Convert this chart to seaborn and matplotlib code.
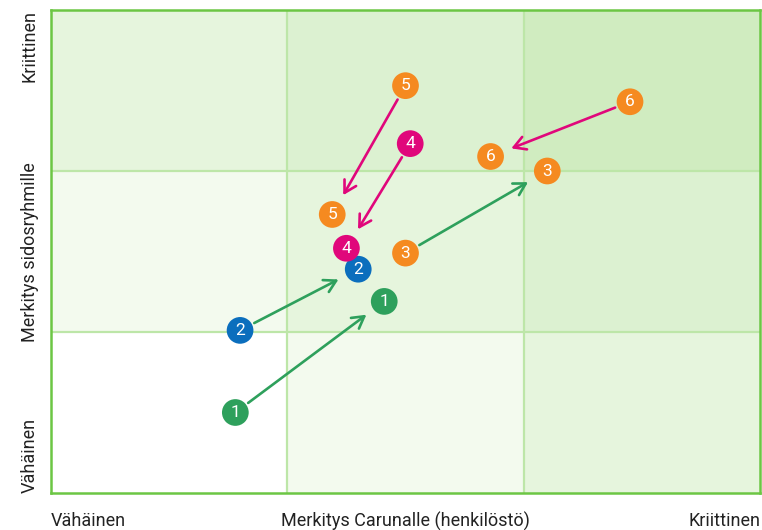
import matplotlib
matplotlib.use("Agg")
import matplotlib.pyplot as plt
from matplotlib.patches import Rectangle
import seaborn as sns
import pandas as pd

# ---- data ----
labels = ["1", "2", "3", "4", "5", "6"]
groups = ["green", "blue", "orange", "magenta", "orange", "orange"]
old_x = [0.78, 0.80, 1.50, 1.52, 1.50, 2.45]
old_y = [0.50, 1.01, 1.49, 2.17, 2.53, 2.43]
new_x = [1.41, 1.30, 2.10, 1.25, 1.19, 1.86]
new_y = [1.19, 1.39, 2.00, 1.52, 1.73, 2.09]
x_labels = ["Vähäinen", "Merkitys Carunalle (henkilöstö)", "Kriittinen"]
y_labels = ["Vähäinen", "Merkitys sidosryhmille", "Kriittinen"]

palette = {"green": "#2ea05c", "blue": "#0b6ebd", "orange": "#f58a20", "magenta": "#e0077b"}
arrow_up = "#2ea05c"
arrow_down = "#e0077b"
cell_colors = ["#ffffff", "#f3faee", "#e6f5dd", "#dcf1d1", "#d0ecc0"]

sns.set_theme(style="white")
plt.rcParams["font.family"] = ["Roboto", "DejaVu Sans"]

fig = plt.figure(figsize=(7.62, 5.30), dpi=100)
ax = fig.add_axes([51/762, 37/530, 709/762, 483/530])
ax.set_xlim(0, 3)
ax.set_ylim(0, 3)

# cells
for i in range(3):
    for j in range(3):
        ax.add_patch(Rectangle((i, j), 1, 1, facecolor=cell_colors[i + j], edgecolor="none", zorder=0))
for v in [1, 2]:
    ax.axvline(v, color="#bde6a8", lw=1.6, zorder=1)
    ax.axhline(v, color="#bde6a8", lw=1.6, zorder=1)

# arrows
for k in range(len(labels)):
    col = arrow_up if (new_x[k] + new_y[k]) > (old_x[k] + old_y[k]) else arrow_down
    ax.annotate("", xy=(new_x[k], new_y[k]), xytext=(old_x[k], old_y[k]),
                arrowprops=dict(arrowstyle="->,head_length=0.7,head_width=0.4", color=col,
                                lw=1.9, shrinkA=11.5, shrinkB=16),
                zorder=2)

# points
df = pd.DataFrame({
    "x": old_x + new_x,
    "y": old_y + new_y,
    "label": labels + labels,
    "group": groups + groups,
})
sns.scatterplot(data=df, x="x", y="y", hue="group", palette=palette, s=370,
                edgecolor="none", legend=False, ax=ax, zorder=3)
for _, r in df.iterrows():
    ax.text(r["x"], r["y"], r["label"], color="white", ha="center", va="center",
            fontsize=12.5, zorder=4)

ax.set_xticks([])
ax.set_yticks([])
ax.set_xlabel("")
ax.set_ylabel("")
for s in ax.spines.values():
    s.set_color("#6cc644")
    s.set_linewidth(1.8)
    s.set_visible(True)

# axis texts
tc = "#222222"
fs = 13
fig.text(51/762, 1 - 521/530, x_labels[0], ha="left", va="center", fontsize=fs, color=tc)
fig.text(405/762, 1 - 521/530, x_labels[1], ha="center", va="center", fontsize=fs, color=tc)
fig.text(760/762, 1 - 521/530, x_labels[2], ha="right", va="center", fontsize=fs, color=tc)
fig.text(30/762, 1 - 493/530, y_labels[0], ha="center", va="bottom", rotation=90, fontsize=fs, color=tc)
fig.text(30/762, 1 - 252/530, y_labels[1], ha="center", va="center", rotation=90, fontsize=fs, color=tc)
fig.text(30/762, 1 - 10/530, y_labels[2], ha="center", va="top", rotation=90, fontsize=fs, color=tc)

fig.savefig("out.png", dpi=100)
